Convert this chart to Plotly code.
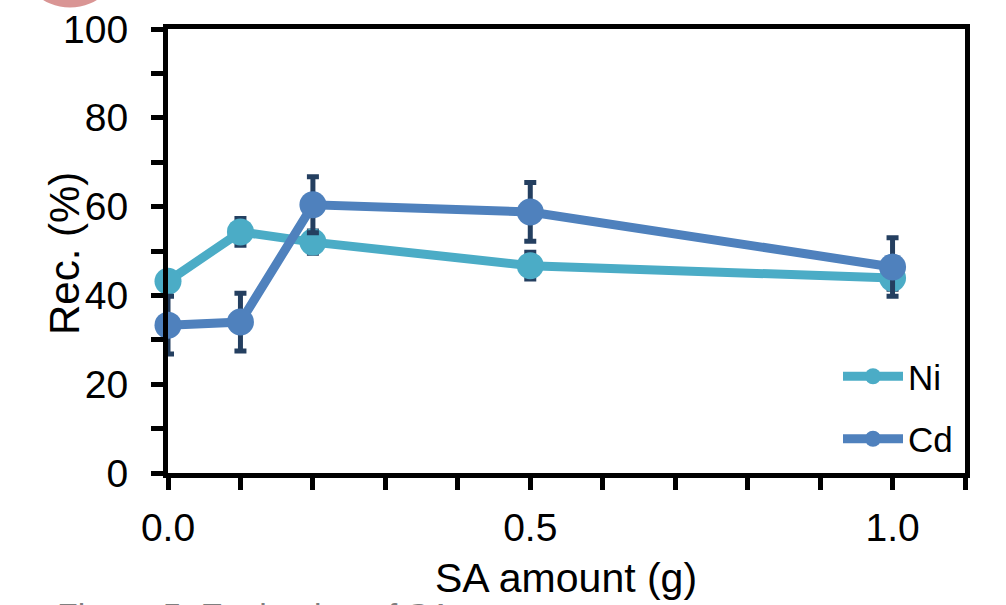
import plotly.graph_objects as go

# ---- data ----
sa_amount = [0.0, 0.1, 0.2, 0.5, 1.0]
ni_rec = [43.2, 54.3, 52.0, 46.7, 43.9]
ni_err = [2.0, 3.0, 2.5, 3.0, 2.5]
cd_rec = [33.3, 34.0, 60.4, 58.8, 46.4]
cd_err = [6.5, 6.5, 6.3, 6.6, 6.6]
series_names = ["Ni", "Cd"]
x_tick_vals = [0.0, 0.5, 1.0]
y_tick_vals = [0, 20, 40, 60, 80, 100]
x_title = "SA amount (g)"
y_title = "Rec. (%)"
caption = "Figure 5. Evaluation of SA amount"

NI_COLOR = "#4BACC6"
CD_COLOR = "#4F81BD"
ERR_COLOR = "#243F60"
FONT = "Arial, Liberation Sans, sans-serif"

# plot area in pixels
L, R, T, B = 168, 41, 29, 132
W, H = 1006, 605
pw, ph = W - L - R, H - T - B

def px_x(px):
    return (px - L) / pw

def px_y(py):
    return (H - B - py) / ph

fig = go.Figure()
for name, yv, ev, col in [(series_names[0], ni_rec, ni_err, NI_COLOR),
                          (series_names[1], cd_rec, cd_err, CD_COLOR)]:
    fig.add_trace(go.Scatter(
        x=sa_amount, y=yv, name=name, mode="lines+markers",
        line=dict(color=col, width=9),
        marker=dict(color=col, size=27),
        error_y=dict(type="data", array=ev, visible=True, color=ERR_COLOR,
                     thickness=5, width=6),
        cliponaxis=False,
        legendgroup=name,
    ))

fig.update_layout(
    width=W, height=H,
    margin=dict(l=L, r=R, t=T, b=B, autoexpand=False),
    paper_bgcolor="white", plot_bgcolor="white",
    font=dict(family=FONT, color="black", size=38),
    showlegend=True,
    legend=dict(x=px_x(838), y=px_y(347), xanchor="left", yanchor="top",
                bgcolor="rgba(0,0,0,0)", font=dict(size=35, family=FONT),
                tracegroupgap=14, itemwidth=60),
    xaxis=dict(
        range=[0, 1.1], tickvals=x_tick_vals, tickformat=".1f",
        showline=True, linecolor="black", linewidth=5, mirror=True,
        ticks="outside", ticklen=12, tickwidth=5, tickcolor="black",
        minor=dict(dtick=0.1, tick0=0, ticks="outside", ticklen=12, tickwidth=5, tickcolor="black"),
        showgrid=False, zeroline=False, automargin=False,
        tickfont=dict(size=39),
        ticklabelstandoff=4,
    ),
    yaxis=dict(
        range=[0, 100], tickvals=y_tick_vals,
        showline=True, linecolor="black", linewidth=5, mirror=True,
        ticks="outside", ticklen=12, tickwidth=5, tickcolor="black",
        minor=dict(dtick=10, tick0=0, ticks="outside", ticklen=12, tickwidth=5, tickcolor="black"),
        showgrid=False, zeroline=False, automargin=False,
        tickfont=dict(size=39),
        ticklabelstandoff=15,
    ),
    shapes=[dict(type="circle", xref="paper", yref="paper",
                 x0=px_x(18), x1=px_x(122), y0=px_y(7.5), y1=px_y(-96.5),
                 fillcolor="#D99594", line=dict(width=0), layer="above")],
    annotations=[
        dict(text=y_title, xref="paper", yref="paper", textangle=-90,
             x=px_x(64), y=px_y(254), xanchor="center", yanchor="middle",
             showarrow=False, font=dict(size=42, color="black", family=FONT)),
        dict(text=x_title, xref="paper", yref="paper",
             x=px_x(566), y=px_y(578), xanchor="center", yanchor="middle",
             showarrow=False, font=dict(size=41, color="black", family=FONT)),
        dict(text=caption, xref="paper", yref="paper",
             x=px_x(55), y=px_y(594), xanchor="left", yanchor="top",
             showarrow=False, font=dict(size=34, color="#7F7F7F", family=FONT)),
    ],
)

fig.write_html("out.html")
